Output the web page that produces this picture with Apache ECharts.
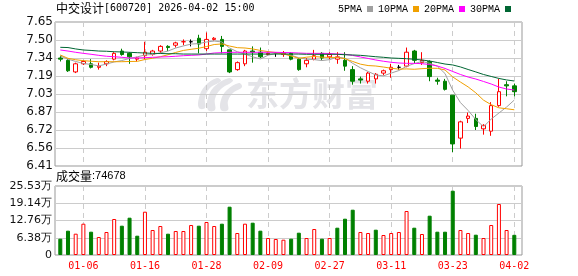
<!DOCTYPE html>
<html>
<head>
<meta charset="utf-8">
<script src="https://cdn.jsdelivr.net/npm/echarts@6/dist/echarts.min.js"></script>
<style>
html, body { margin: 0; padding: 0; background: #fff; }
#chart { width: 578px; height: 276px; }
</style>
</head>
<body>
<div id="chart"></div>
<script>
// 中交设计 600720 daily K line, 60 trading days
const dates = ['12-30','12-31','01-05','01-06','01-07','01-08','01-09','01-12','01-13','01-14',
  '01-15','01-16','01-19','01-20','01-21','01-22','01-23','01-26','01-27','01-28',
  '01-29','01-30','02-02','02-03','02-04','02-05','02-06','02-09','02-10','02-11',
  '02-12','02-13','02-24','02-25','02-26','02-27','03-02','03-03','03-04','03-05',
  '03-06','03-09','03-10','03-11','03-12','03-13','03-16','03-17','03-18','03-19',
  '03-20','03-23','03-24','03-25','03-26','03-27','03-30','03-31','04-01','04-02'];

const opens = [7.34,7.32,7.22,7.29,7.29,7.26,7.29,7.33,7.40,7.38,
  7.33,7.36,7.37,7.40,7.44,7.45,7.48,7.48,7.51,7.42,
  7.50,7.50,7.41,7.24,7.29,7.40,7.39,7.37,7.38,7.37,
  7.38,7.33,7.29,7.33,7.38,7.35,7.33,7.32,7.24,7.16,
  7.14,7.16,7.21,7.24,7.26,7.27,7.40,7.30,7.31,7.15,
  7.14,7.02,6.65,6.82,6.82,6.73,6.71,6.93,7.11,7.10];

const closes = [7.33,7.23,7.29,7.31,7.26,7.27,7.31,7.38,7.37,7.35,
  7.34,7.39,7.40,7.44,7.43,7.47,7.48,7.48,7.46,7.50,
  7.51,7.44,7.22,7.30,7.40,7.39,7.35,7.38,7.38,7.38,
  7.33,7.24,7.32,7.36,7.34,7.37,7.35,7.27,7.14,7.15,
  7.21,7.20,7.23,7.26,7.26,7.39,7.32,7.32,7.18,7.14,
  7.07,6.60,6.79,6.84,6.75,6.76,6.93,7.05,7.10,7.05];

const lows = [7.31,7.22,7.21,7.28,7.25,7.24,7.27,7.32,7.36,7.29,
  7.31,7.33,7.36,7.38,7.40,7.43,7.45,7.44,7.38,7.40,
  7.49,7.38,7.21,7.23,7.27,7.30,7.34,7.36,7.35,7.35,
  7.32,7.23,7.26,7.32,7.32,7.33,7.29,7.23,7.11,7.12,
  7.12,7.12,7.19,7.17,7.24,7.26,7.29,7.28,7.14,7.11,
  7.06,6.53,6.56,6.78,6.72,6.68,6.67,6.92,7.01,7.01];

const highs = [7.36,7.33,7.30,7.32,7.33,7.30,7.32,7.39,7.42,7.39,
  7.35,7.48,7.41,7.45,7.45,7.48,7.50,7.50,7.54,7.56,
  7.52,7.53,7.41,7.31,7.41,7.44,7.43,7.39,7.39,7.40,
  7.39,7.34,7.34,7.41,7.39,7.39,7.39,7.39,7.27,7.18,
  7.22,7.21,7.24,7.29,7.28,7.43,7.41,7.39,7.32,7.17,
  7.16,7.02,6.80,6.87,6.86,6.77,6.96,7.16,7.14,7.12];

const volumes = [60300,90000,78800,115800,86200,66600,85100,133200,108400,138000,
  71400,160200,92500,107300,78800,88800,88800,111000,108400,122100,
  107300,115800,178700,81400,115800,119500,90000,62900,59200,56600,
  60300,82500,62900,96200,60300,62900,101000,134300,167600,85100,
  81400,93600,74000,81400,85100,162800,101000,77700,145400,86200,
  86200,237900,92500,81400,75100,62900,111000,188700,92500,74678];

const ma5 = [7.357,7.330,7.310,7.293,7.284,7.272,7.288,7.306,7.318,7.336,
  7.350,7.366,7.370,7.384,7.400,7.426,7.444,7.460,7.464,7.478,
  7.486,7.478,7.426,7.394,7.374,7.350,7.332,7.364,7.380,7.376,
  7.364,7.342,7.330,7.326,7.318,7.326,7.348,7.338,7.294,7.256,
  7.224,7.194,7.186,7.210,7.232,7.268,7.292,7.310,7.294,7.270,
  7.206,7.062,6.956,6.888,6.810,6.748,6.814,6.866,6.918,6.978];

const ma10 = [7.366,7.337,7.325,7.317,7.312,7.308,7.308,7.308,7.308,7.310,
  7.311,7.327,7.338,7.351,7.368,7.388,7.405,7.415,7.424,7.439,
  7.456,7.461,7.443,7.429,7.426,7.418,7.405,7.395,7.387,7.375,
  7.357,7.337,7.347,7.353,7.347,7.345,7.345,7.334,7.310,7.287,
  7.275,7.271,7.262,7.252,7.244,7.246,7.243,7.248,7.252,7.251,
  7.237,7.177,7.133,7.091,7.040,6.977,6.938,6.911,6.903,6.894];

const ma20 = [7.409,7.400,7.389,7.380,7.372,7.363,7.355,7.351,7.346,7.340,
  7.340,7.343,7.346,7.349,7.351,7.355,7.360,7.363,7.366,7.374,
  7.383,7.386,7.389,7.389,7.389,7.389,7.389,7.389,7.389,7.387,
  7.386,7.383,7.380,7.380,7.380,7.379,7.374,7.372,7.362,7.349,
  7.336,7.323,7.312,7.303,7.297,7.294,7.294,7.291,7.284,7.271,
  7.250,7.224,7.198,7.176,7.159,7.138,7.116,7.090,7.073,7.064];

const ma30 = [7.432,7.430,7.418,7.409,7.405,7.400,7.398,7.394,7.392,7.389,
  7.386,7.383,7.380,7.379,7.377,7.377,7.374,7.374,7.374,7.374,
  7.374,7.374,7.374,7.374,7.374,7.374,7.374,7.374,7.374,7.374,
  7.374,7.374,7.372,7.372,7.372,7.372,7.372,7.368,7.366,7.363,
  7.357,7.351,7.346,7.340,7.337,7.334,7.329,7.323,7.314,7.301,
  7.288,7.280,7.263,7.241,7.220,7.198,7.181,7.164,7.151,7.142];

const priceTickLabels = ['6.41','6.56','6.72','6.87','7.03','7.19','7.34','7.50','7.65'];
const volumeTickLabels = ['0','6.38万','12.76万','19.14万','25.53万'];
const maNames = ['5PMA','10PMA','20PMA','30PMA'];

const PRICE_MIN = 6.41, PRICE_MAX = 7.65, PRICE_STEP = 0.155;
const VOL_MAX = 255300, VOL_STEP = 63825;

const UP = '#ff0000', DOWN = '#008000', FLAT = '#000000';
const maColors = ['#a0a0a0', '#f0a000', '#ff00ff', '#006633'];
const WATERMARK = '#e4e4e8';

// candle colour: body direction, doji compared with the previous close
const candleData = dates.map((d, i) => {
  const o = opens[i], c = closes[i];
  const item = { value: [o, c, lows[i], highs[i]] };
  if (o === c && i > 0 && c === closes[i - 1]) {
    item.itemStyle = { color: FLAT, borderColor: FLAT, color0: FLAT, borderColor0: FLAT };
  }
  return item;
});

// volume colour follows the close against the previous close
const volumeData = volumes.map((v, i) => {
  const up = i === 0 ? closes[i] >= opens[i] : closes[i] >= closes[i - 1];
  return {
    value: v,
    itemStyle: up
      ? { color: '#ffffff', borderColor: UP, borderWidth: 1 }
      : { color: DOWN, borderColor: DOWN, borderWidth: 1 }
  };
});

const markEvery = (idx) => (idx - 3) % 8 === 0;

const dashed = { show: true, interval: markEvery, lineStyle: { color: '#cccccc', type: [5, 4], width: 1 } };

const plain = (family, size) => ({ fontFamily: family, fontSize: size, fontWeight: 'normal', color: '#000' });

const chart = echarts.init(document.getElementById('chart'), null, { renderer: 'canvas' });

chart.setOption({
  animation: false,
  backgroundColor: '#ffffff',
  title: [
    {
      text: '{a|中交设计}{b|[600720] 2026-04-02 15:00}',
      left: 56, top: 2, padding: 0,
      textStyle: { fontWeight: 'normal', rich: { a: plain('Noto Sans CJK SC', 12), b: plain('DejaVu Sans Mono', 10) } }
    },
    {
      text: '{a|成交量}{b|:74678}',
      left: 56, top: 170, padding: 0,
      textStyle: { fontWeight: 'normal', rich: { a: plain('Noto Sans CJK SC', 12), b: plain('Liberation Sans', 11) } }
    }
  ],
  legend: {
    data: maNames,
    left: 338, top: 4,
    align: 'right',
    icon: 'rect',
    itemWidth: 6, itemHeight: 6, itemGap: 5,
    padding: 0,
    selectedMode: false,
    textStyle: { fontFamily: 'Liberation Mono', fontSize: 10, color: '#000' }
  },
  graphic: [
    {
      type: 'group', left: 198, top: 78, silent: true, z: 0,
      children: [
        { type: 'polygon', shape: { smooth: 0.4, points: [[20,2],[8,10],[2,22],[2,32],[8,32],[8,22],[13,12],[24,5]] }, style: { fill: WATERMARK } },
        { type: 'polygon', shape: { smooth: 0.4, points: [[32,2],[18,10],[11,22],[11,34],[18,34],[18,23],[24,13],[36,5]] }, style: { fill: WATERMARK } },
        { type: 'polygon', shape: { smooth: 0.4, points: [[42,7],[30,14],[24,24],[24,34],[31,34],[31,25],[36,17],[45,11]] }, style: { fill: WATERMARK } }
      ]
    },
    {
      type: 'text', left: 246, top: 77, silent: true, z: 0,
      style: { text: '东方财富', fill: WATERMARK, font: 'bold 33px "Noto Sans CJK SC"' }
    }
  ],
  grid: [
    { left: 55, top: 22, width: 467, height: 144, show: true, borderColor: '#999999', borderWidth: 1 },
    { left: 60.3, top: 22, width: 454, height: 144 },
    { left: 55, top: 186, width: 467, height: 69, show: true, borderColor: '#999999', borderWidth: 1 },
    { left: 60.3, top: 186, width: 454, height: 69 }
  ],
  xAxis: [
    { gridIndex: 0, type: 'value', min: 0, max: 1, show: false },
    {
      gridIndex: 1, type: 'category', data: dates, boundaryGap: false,
      axisLine: { show: false }, axisTick: { show: false }, axisLabel: { show: false },
      splitLine: dashed
    },
    { gridIndex: 2, type: 'value', min: 0, max: 1, show: false },
    {
      gridIndex: 3, type: 'category', data: dates, boundaryGap: false,
      axisLine: { show: false }, axisTick: { show: false },
      axisLabel: {
        show: true, interval: markEvery, margin: 6,
        color: '#ff0000', fontFamily: 'DejaVu Sans Mono', fontSize: 10
      },
      splitLine: dashed
    }
  ],
  yAxis: [
    {
      gridIndex: 0, type: 'value', min: PRICE_MIN, max: PRICE_MAX, interval: PRICE_STEP,
      axisLine: { show: false }, axisTick: { show: false },
      axisLabel: {
        margin: 2, color: '#111', fontFamily: 'DejaVu Sans', fontSize: 12,
        formatter: (v) => priceTickLabels[Math.round((v - PRICE_MIN) / PRICE_STEP)] || ''
      },
      splitLine: { show: true, lineStyle: { color: '#cccccc', width: 1 } }
    },
    { gridIndex: 1, type: 'value', min: PRICE_MIN, max: PRICE_MAX, show: false, splitLine: { show: false } },
    {
      gridIndex: 2, type: 'value', min: 0, max: VOL_MAX, interval: VOL_STEP,
      axisLine: { show: false }, axisTick: { show: false },
      axisLabel: {
        margin: 3, color: '#111', fontFamily: 'DejaVu Sans', fontSize: 11,
        formatter: (v) => volumeTickLabels[Math.round(v / VOL_STEP)] || ''
      },
      splitLine: { show: true, lineStyle: { color: '#cccccc', width: 1 } }
    },
    { gridIndex: 3, type: 'value', min: 0, max: VOL_MAX, show: false, splitLine: { show: false } }
  ],
  series: [
    {
      name: 'K', type: 'candlestick', xAxisIndex: 1, yAxisIndex: 1,
      data: candleData, barWidth: 4, clip: false, z: 3,
      itemStyle: { color: '#ffffff', color0: DOWN, borderColor: UP, borderColor0: DOWN, borderWidth: 1 }
    },
    ...[ma5, ma10, ma20, ma30].map((arr, k) => ({
      name: maNames[k], type: 'line', xAxisIndex: 1, yAxisIndex: 1,
      data: arr, symbol: 'none', clip: false, z: 4,
      color: maColors[k],
      lineStyle: { color: maColors[k], width: 1 },
      itemStyle: { color: maColors[k] }
    })),
    {
      name: 'VOL', type: 'bar', xAxisIndex: 3, yAxisIndex: 3,
      data: volumeData, barWidth: 4, clip: false
    }
  ]
});
</script>
</body>
</html>
